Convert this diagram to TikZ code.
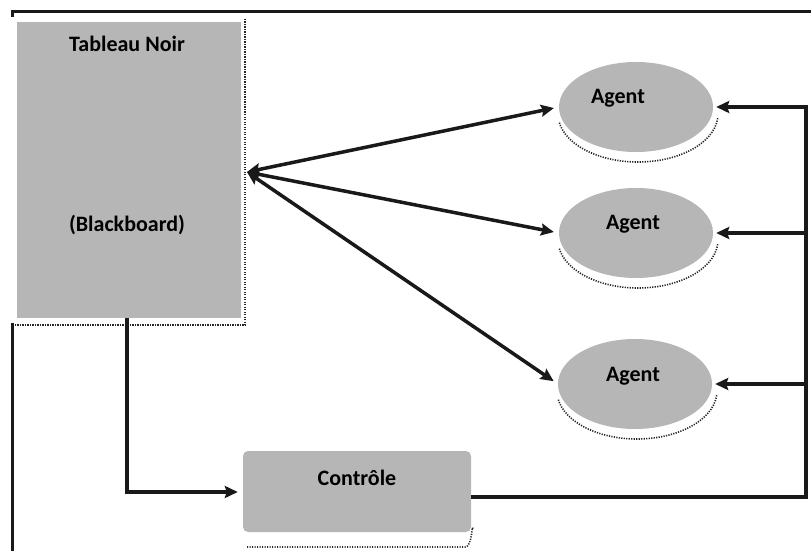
\documentclass[tikz,border=0pt]{standalone}
\usepackage{fontspec}
\setmainfont{Carlito}
\usetikzlibrary{arrows.meta,shapes.geometric}
\definecolor{boxgray}{RGB}{182,182,182}
\tikzset{
  panel/.style={fill=boxgray,draw=none,inner sep=0pt},
  agentnode/.style={ellipse,fill=boxgray,draw=none,minimum width=154pt,minimum height=90pt,inner sep=0pt},
  txt/.style={font=\fontsize{22}{26}\selectfont\bfseries,inner sep=0pt},
  wire/.style={line width=3.5pt,draw=black!90},
  tip/.style={-{Stealth[length=13pt,width=12pt,inset=2pt]}},
  bothtips/.style={{Stealth[length=13pt,width=12pt,inset=2pt]}-{Stealth[length=13pt,width=12pt,inset=2pt]}},
  shade/.style={line width=1.6pt,dash pattern=on 1.2pt off 1.3pt,draw=black!85},
  frame/.style={line width=3pt,draw=black!90}
}
\begin{document}
\begin{tikzpicture}[x=1pt,y=-1pt]
\useasboundingbox (0,0) rectangle (811,551);

% outer frame
\draw[frame] (12,17) -- (12,12) -- (811,12);
\draw[frame] (12,323) -- (12,551);

% blackboard
\node[panel,minimum width=224pt,minimum height=296pt] (bb) at (129,170) {};
\draw[shade] (245,19) -- (245,325) -- (14,325);
\node[txt] (bbtitle) at (127,44) {Tableau Noir};
\node[txt] (bbsub) at (127,225) {(Blackboard)};

% agents
\node[agentnode] (a1) at (636,107) {};
\node[agentnode] (a2) at (636,233) {};
\node[agentnode] (a3) at (635,384) {};
\node[txt] (t1) at (618,98) {Agent};
\node[txt] (t2) at (633,224) {Agent};
\node[txt] (t3) at (633,376) {Agent};
\draw[shade] (638,114) ++(5:80 and 48) arc[start angle=5,end angle=170,x radius=80,y radius=48];
\draw[shade] (638,240) ++(5:80 and 48) arc[start angle=5,end angle=170,x radius=80,y radius=48];
\draw[shade] (637,391) ++(5:80 and 48) arc[start angle=5,end angle=170,x radius=80,y radius=48];

% control
\node[panel,rounded corners=5pt,minimum width=228pt,minimum height=81pt] (ctrl) at (357,491.5) {};
\node[txt] (tc) at (357,478) {Contrôle};
\draw[shade] (247,547) -- (465,547) to[out=0,in=100] (473,529);

% connectors
\coordinate (hub) at (247,172);
\draw[wire,bothtips,shorten >=5pt] (hub) -- (a1.west);
\draw[wire,bothtips,shorten >=5pt] (hub) -- (a2.west);
\draw[wire,bothtips,shorten >=5pt] (hub) -- (a3.west);

\coordinate (drop) at (127,492);
\draw[wire,tip,shorten >=5pt] (bb.south -| drop) -- (drop) -- (ctrl.west |- drop);

\coordinate (bus0) at (806,497);
\coordinate (bus1) at (804,107);
\coordinate (bus2) at (804,233);
\coordinate (bus3) at (804,384);
\draw[wire] (ctrl.east |- bus0) -- (bus0) -- (806,105.25);
\draw[wire,tip,shorten >=3pt] (bus1) -- (a1.east);
\draw[wire,tip,shorten >=3pt] (bus2) -- (a2.east);
\draw[wire,tip,shorten >=3pt] (bus3) -- (a3.east);
\end{tikzpicture}
\end{document}
